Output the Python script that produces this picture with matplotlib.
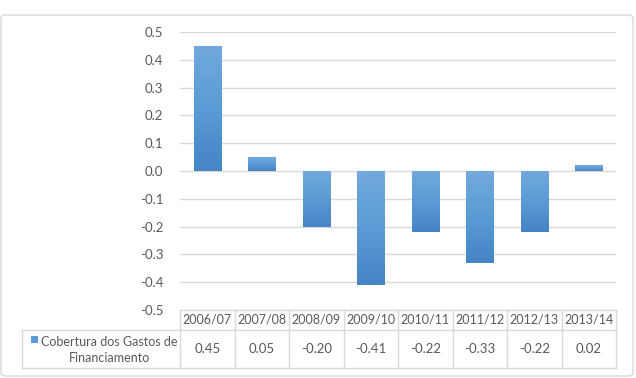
import numpy as np
import matplotlib.pyplot as plt
from matplotlib.colors import LinearSegmentedColormap
from matplotlib.patches import FancyBboxPatch, Rectangle
from matplotlib.lines import Line2D

plt.rcParams['font.family'] = ['Lato', 'DejaVu Sans']
plt.rcParams['axes.unicode_minus'] = False

# data
periods = ['2006/07', '2007/08', '2008/09', '2009/10', '2010/11', '2011/12', '2012/13', '2013/14']
values = [0.45, 0.05, -0.20, -0.41, -0.22, -0.33, -0.22, 0.02]
series_name = 'Cobertura dos Gastos de\nFinanciamento'
yticks = np.arange(-0.5, 0.51, 0.1)

W, H = 636, 378
grid_col = '#d9d9d9'
txt_col = '#595959'
bar_col = '#5b9bd5'
grad = LinearSegmentedColormap.from_list('g', ['#4584c6', '#5b9bd5', '#72a9de'])


def fx(px):
    return px / W


def fy(py):
    return 1 - py / H


fig = plt.figure(figsize=(W / 100, H / 100), dpi=100)

# outer chart border
border = FancyBboxPatch((fx(1), fy(376)), fx(633) - fx(1), fy(15) - fy(376),
                        boxstyle='round,pad=0,rounding_size=0.008',
                        transform=fig.transFigure, fc='white', ec=grid_col, lw=1, zorder=-5)
fig.patches.append(border)

ax_l, ax_r, ax_t, ax_b = 180, 616, 32, 310
ax = fig.add_axes([fx(ax_l), fy(ax_b), fx(ax_r) - fx(ax_l), fy(ax_t) - fy(ax_b)])
ax.patch.set_alpha(0)

x = np.arange(len(periods))
bars = ax.bar(x, values, width=0.5, color='none', zorder=3)
g = np.linspace(0, 1, 64).reshape(-1, 1)
for b in bars:
    x0, y0 = b.get_x(), b.get_y()
    x1, y1 = x0 + b.get_width(), y0 + b.get_height()
    im = ax.imshow(g, cmap=grad, origin='lower', aspect='auto', zorder=3,
                   extent=[x0, x1, min(y0, y1), max(y0, y1)])
    im.set_clip_path(b)
ax.set_xlim(-0.5, len(periods) - 0.5)
ax.set_ylim(-0.5, 0.5)
ax.set_yticks(yticks)
ax.set_yticklabels([f'{v:.1f}' if abs(v) > 1e-9 else '0.0' for v in yticks])
ax.yaxis.grid(True, color=grid_col, lw=1, zorder=0)
ax.set_xticks([])
ax.tick_params(axis='y', length=0, pad=12, labelsize=9.5, labelcolor=txt_col)
for s in ax.spines.values():
    s.set_visible(False)

# data table under the axes
col_w = (ax_r - ax_l) / len(periods)
hdr_top, hdr_bot, row_bot = 310, 330, 368
leg_l = 22
lines = [
    ((ax_l, ax_r), (hdr_top, hdr_top)),
    ((leg_l, ax_r), (hdr_bot, hdr_bot)),
    ((leg_l, ax_r), (row_bot, row_bot)),
    ((leg_l, leg_l), (hdr_bot, row_bot)),
]
for i in range(len(periods) + 1):
    lines.append(((ax_l + i * col_w, ax_l + i * col_w), (hdr_top, row_bot)))
for (x0, x1), (y0, y1) in lines:
    fig.add_artist(Line2D([fx(x0), fx(x1)], [fy(y0), fy(y1)], transform=fig.transFigure,
                          color=grid_col, lw=1))

for i, (p, v) in enumerate(zip(periods, values)):
    cx = ax_l + (i + 0.5) * col_w
    fig.text(fx(cx), fy((hdr_top + hdr_bot) / 2), p, ha='center', va='center',
             fontsize=9, color=txt_col)
    fig.text(fx(cx), fy((hdr_bot + row_bot) / 2), f'{v:.2f}', ha='center', va='center',
             fontsize=9.5, color=txt_col)

fig.patches.append(Rectangle((fx(31), fy(343)), fx(7), 7 / H, transform=fig.transFigure,
                             fc=bar_col, ec='none'))
fig.text(fx(109), fy((hdr_bot + row_bot) / 2 + 1), series_name, ha='center', va='center',
         fontsize=9, color=txt_col, linespacing=1.3)

fig.savefig('out.png', dpi=100)
